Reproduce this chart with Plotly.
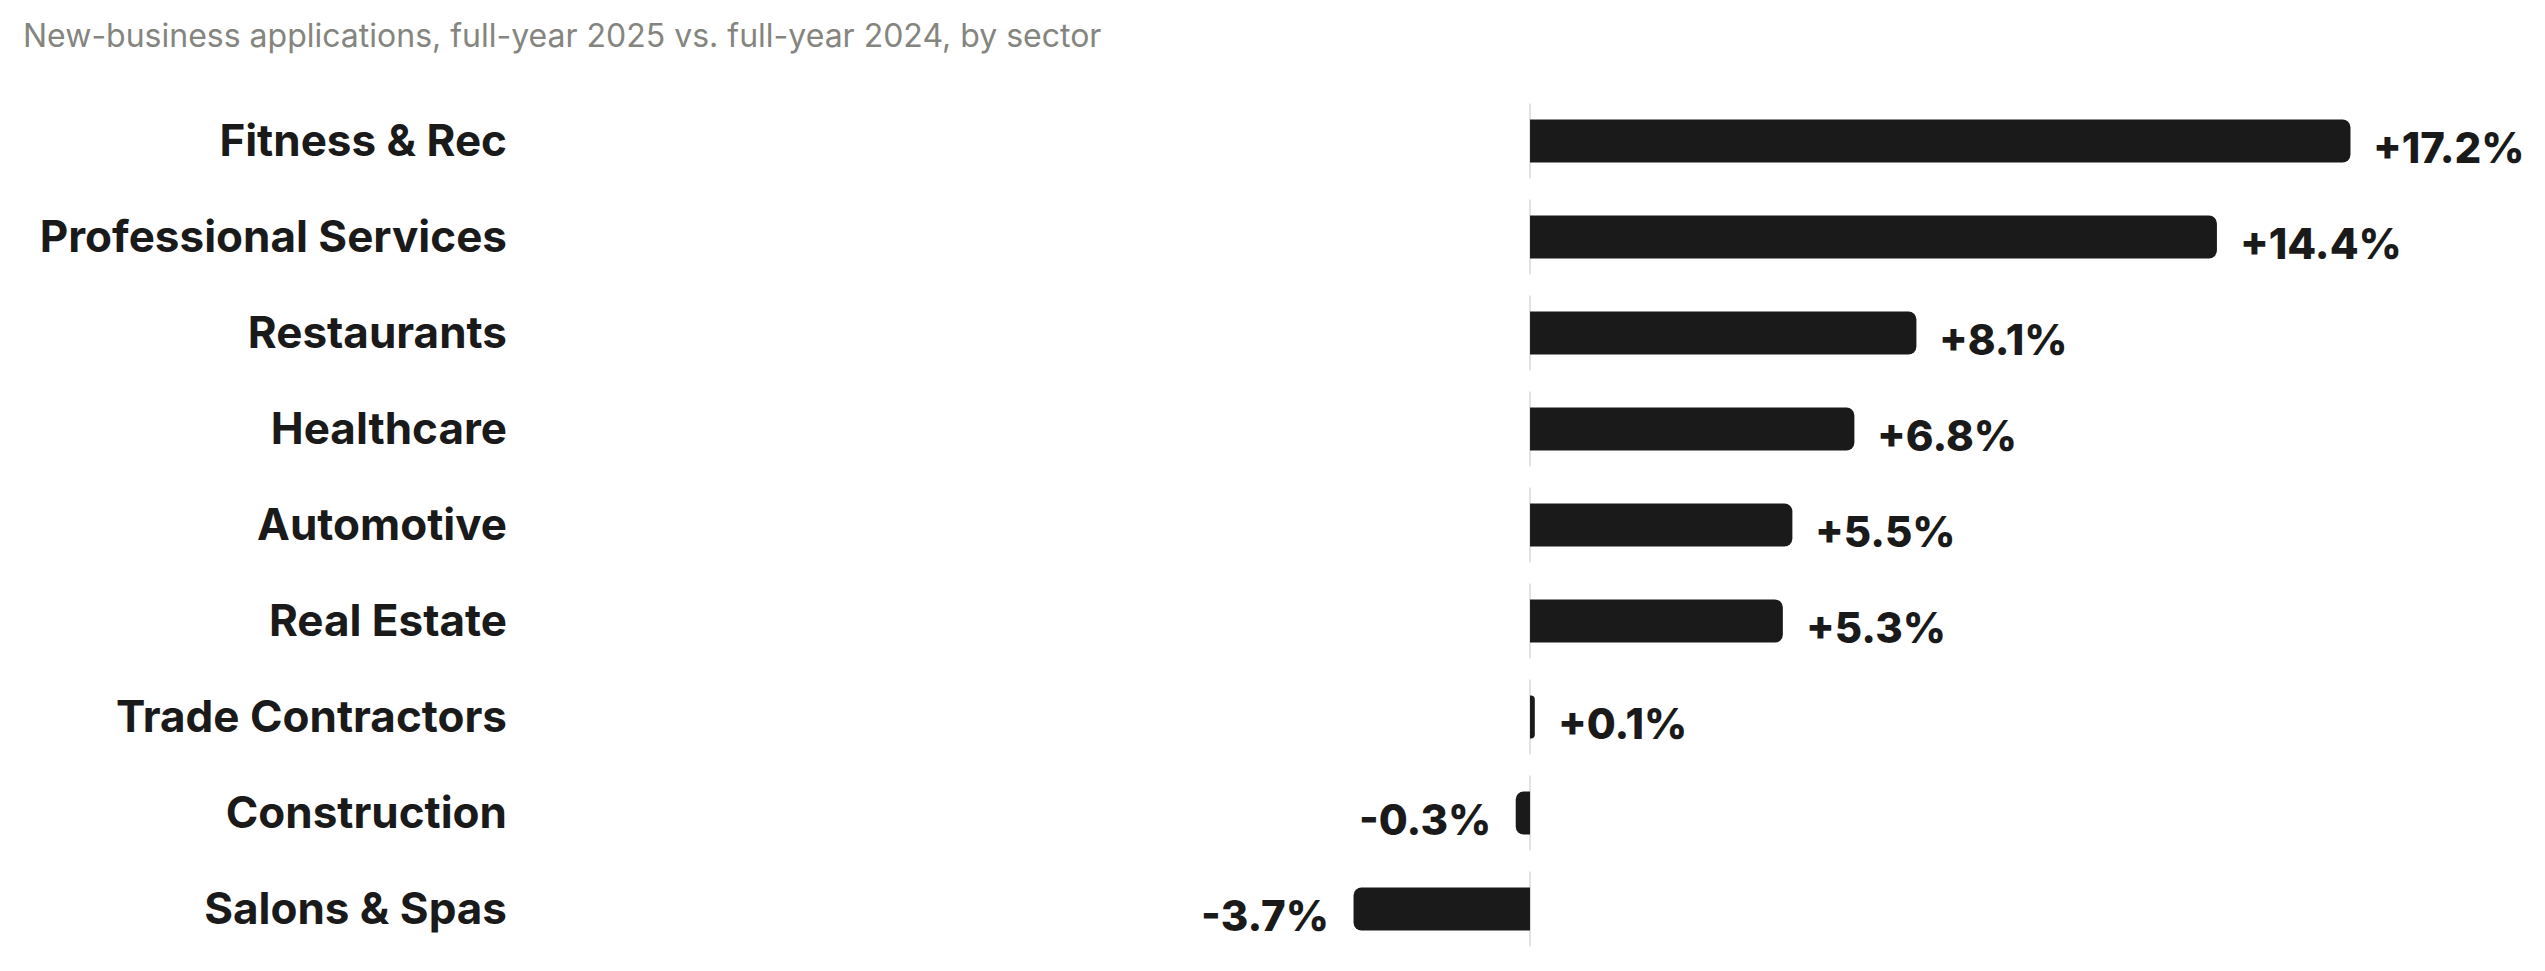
import plotly.graph_objects as go

sectors = ["Fitness & Rec", "Professional Services", "Restaurants", "Healthcare",
           "Automotive", "Real Estate", "Trade Contractors", "Construction", "Salons & Spas"]
pct_change = [17.2, 14.4, 8.1, 6.8, 5.5, 5.3, 0.1, -0.3, -3.7]
title_text = "New-business applications, full-year 2025 vs. full-year 2024, by sector"

ink = "#1a1a1a"
W, H = 2529, 955  # page minus default body margin

fig = go.Figure()
fig.add_trace(go.Bar(
    x=pct_change, y=sectors, orientation="h", width=0.45,
    marker=dict(color=ink, cornerradius=8, line=dict(width=0)),
    hoverinfo="skip",
))

# value labels just past the end of each bar
for s, v in zip(sectors, pct_change):
    fig.add_annotation(
        x=v, y=s, text=f"{v:+.1f}%", showarrow=False,
        xanchor="left" if v >= 0 else "right",
        xshift=21 if v >= 0 else -23, yshift=-6,
        font=dict(family="Inter", size=42, color=ink, weight=800),
    )

# thin zero line, broken between rows
for i, s in enumerate(sectors):
    fig.add_shape(type="line", xref="x", yref="y", x0=0, x1=0,
                  y0=i - 0.39, y1=i + 0.39, layer="below",
                  line=dict(color="#e2e2e0", width=2))

fig.update_layout(
    width=W, height=H,
    margin=dict(l=512, r=0, t=85, b=6),
    paper_bgcolor="white", plot_bgcolor="white",
    showlegend=False,
    title=dict(text=title_text, x=15 / W, xanchor="left", xref="container",
               y=1 - 28 / H, yanchor="middle", yref="container",
               font=dict(family="Inter", size=32, color="#85857f")),
)
fig.update_xaxes(range=[-21.174, 21.11], visible=False, showgrid=False, zeroline=False)
fig.update_yaxes(categoryorder="array", categoryarray=sectors, range=[8.5, -0.5],
                 showgrid=False, zeroline=False, showline=False, ticks="",
                 ticklabelstandoff=12,
                 tickfont=dict(family="Inter", size=44, color=ink, weight=700))

fig.write_html("out.html")
